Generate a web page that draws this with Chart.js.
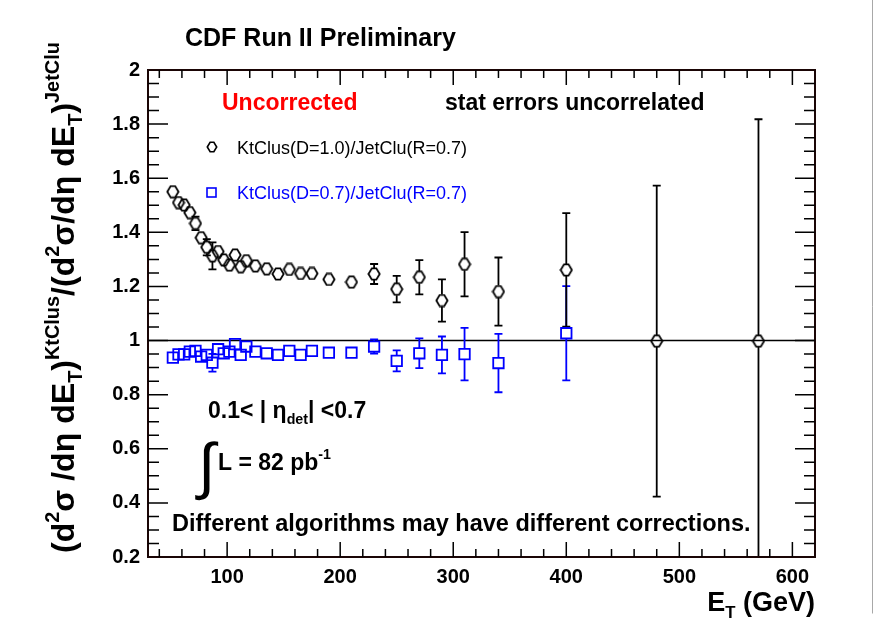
<!DOCTYPE html>
<html>
<head>
<meta charset="utf-8">
<title>KtClus / JetClu ratio</title>
<script src="https://cdn.jsdelivr.net/npm/chart.js@4.4.0/dist/chart.umd.min.js"></script>
<style>
  body { margin: 0; background: #fff; }
  canvas { display: block; }
</style>
</head>
<body>
<canvas id="chart" width="881" height="621"></canvas>
<script>
// jet E_T bin centres (GeV)
const energies = [52, 57, 62, 67, 72, 77, 82, 87, 92, 97, 102, 107, 112, 117, 125, 135, 145, 155, 165, 175, 190,
                  210, 230, 250, 270, 290, 310, 340, 400, 480, 570];

// KtClus(D=1.0)/JetClu(R=0.7)
const ratioD10 = [1.550, 1.510, 1.501, 1.473, 1.433, 1.380, 1.345, 1.313, 1.329, 1.298, 1.279, 1.316, 1.273, 1.295,
                  1.276, 1.265, 1.246, 1.263, 1.248, 1.248, 1.226, 1.216, 1.246, 1.190, 1.234, 1.148, 1.282, 1.181,
                  1.261, 0.998, 0.998];
const errD10 = [0.008, 0.010, 0.010, 0.020, 0.025, 0.020, 0.030, 0.050, 0.015, 0.015, 0.015, 0.020, 0.015, 0.015,
                0.015, 0.015, 0.020, 0.015, 0.015, 0.015, 0.015, 0.015, 0.037, 0.049, 0.063, 0.078, 0.119, 0.126,
                0.210, 0.575, 0.820];

// KtClus(D=0.7)/JetClu(R=0.7)
const ratioD07 = [0.937, 0.949, 0.949, 0.959, 0.962, 0.941, 0.947, 0.918, 0.968, 0.953, 0.959, 0.987, 0.947, 0.978,
                  0.959, 0.953, 0.947, 0.962, 0.947, 0.962, 0.955, 0.955, 0.978, 0.925, 0.953, 0.947, 0.950, 0.917,
                  1.027, null, null];
const errD07 = [0.008, 0.010, 0.010, 0.010, 0.015, 0.015, 0.015, 0.033, 0.010, 0.010, 0.010, 0.015, 0.010, 0.010,
                0.010, 0.010, 0.010, 0.010, 0.010, 0.010, 0.010, 0.012, 0.026, 0.039, 0.055, 0.068, 0.097, 0.108,
                0.174, null, null];

const xTickValues = [100, 200, 300, 400, 500, 600];
const xTickLabels = ['100', '200', '300', '400', '500', '600'];
const yTickValues = [0.2, 0.4, 0.6, 0.8, 1.0, 1.2, 1.4, 1.6, 1.8, 2.0];
const yTickLabels = ['0.2', '0.4', '0.6', '0.8', '1', '1.2', '1.4', '1.6', '1.8', '2'];

const FONT = '"Liberation Sans", Arial, sans-serif';
const BLUE = '#0000ff';

// open hexagon-ish marker used for the D=1.0 points
function hexMarker(size, color, lw) {
    const c = document.createElement('canvas');
    c.width = c.height = size;
    const g = c.getContext('2d');
    const m = size / 2, r = size / 2 - lw / 2 - 0.5;
    g.strokeStyle = color;
    g.lineWidth = lw;
    g.beginPath();
    g.moveTo(m - r, m);
    g.lineTo(m - r * 0.4, m - r);
    g.lineTo(m + r * 0.4, m - r);
    g.lineTo(m + r, m);
    g.lineTo(m + r * 0.4, m + r);
    g.lineTo(m - r * 0.4, m + r);
    g.closePath();
    g.stroke();
    return c;
}

function points(vals) {
    const out = [];
    energies.forEach((e, i) => { if (vals[i] != null) out.push({ x: e, y: vals[i] }); });
    return out;
}

function drawErrors(ctx, xs, ys, vals, errs, color, gap) {
    ctx.strokeStyle = color;
    ctx.lineWidth = 1.8;
    energies.forEach((e, i) => {
        if (vals[i] == null) return;
        const px = xs.getPixelForValue(e);
        const pc = ys.getPixelForValue(vals[i]);
        const hi = ys.getPixelForValue(vals[i] + errs[i]);
        const lo = ys.getPixelForValue(vals[i] - errs[i]);
        if (lo - pc <= gap) return;
        ctx.beginPath();
        ctx.moveTo(px, hi); ctx.lineTo(px, pc - gap);
        ctx.moveTo(px, pc + gap); ctx.lineTo(px, lo);
        ctx.moveTo(px - 4, hi); ctx.lineTo(px + 4, hi);
        ctx.moveTo(px - 4, lo); ctx.lineTo(px + 4, lo);
        ctx.stroke();
    });
}

// text with superscript / subscript pieces: [string, 'n' | 'sup' | 'sub']
function rich(ctx, parts, x, y, size, weight, draw) {
    let cx = x;
    parts.forEach(([s, kind]) => {
        const fs = kind === 'n' ? size : size * 0.62;
        const dy = kind === 'sup' ? -size * 0.48 : kind === 'sub' ? size * 0.25 : 0;
        ctx.font = `${weight} ${fs}px ${FONT}`;
        if (draw) ctx.fillText(s, cx, y + dy);
        cx += ctx.measureText(s).width;
    });
    return cx - x;
}

function text(ctx, s, x, y, size, weight, color) {
    ctx.font = `${weight} ${size}px ${FONT}`;
    ctx.fillStyle = color;
    ctx.fillText(s, x, y);
}

const decorations = {
    id: 'decorations',
    beforeDraw(chart) {
        const ctx = chart.ctx;
        ctx.save();
        ctx.fillStyle = '#fff';
        ctx.fillRect(0, 0, chart.width, chart.height);
        // canvas edge on the right
        ctx.strokeStyle = '#a8a8a8';
        ctx.lineWidth = 1;
        ctx.beginPath();
        ctx.moveTo(872.5, 0); ctx.lineTo(872.5, 613.5);
        ctx.stroke();
        ctx.restore();
    },
    beforeDatasetsDraw(chart) {
        const { ctx, chartArea: a, scales: { x, y } } = chart;
        ctx.save();
        ctx.beginPath();
        ctx.rect(a.left, a.top, a.right - a.left, a.bottom - a.top);
        ctx.clip();
        const y1 = y.getPixelForValue(1);
        ctx.strokeStyle = '#000';
        ctx.lineWidth = 1.5;
        ctx.beginPath();
        ctx.moveTo(a.left, y1); ctx.lineTo(a.right, y1);
        ctx.stroke();
        drawErrors(ctx, x, y, ratioD07, errD07, BLUE, 5);
        drawErrors(ctx, x, y, ratioD10, errD10, '#000', 6);
        ctx.restore();
    },
    afterDraw(chart) {
        const { ctx, chartArea: a, scales: { x, y } } = chart;
        ctx.save();

        // frame with inward ticks on all four sides
        ctx.strokeStyle = '#1a0505';
        ctx.lineWidth = 2;
        ctx.strokeRect(a.left, a.top, a.right - a.left, a.bottom - a.top);
        ctx.lineWidth = 1.5;
        ctx.strokeStyle = '#000';
        ctx.beginPath();
        for (let v = 40; v <= 600; v += 20) {
            const px = x.getPixelForValue(v);
            const len = v % 100 === 0 ? 15 : 8;
            ctx.moveTo(px, a.bottom); ctx.lineTo(px, a.bottom - len);
            ctx.moveTo(px, a.top); ctx.lineTo(px, a.top + len);
        }
        for (let k = 1; k < 36; k++) {
            const v = 0.2 + k * 0.05;
            const py = y.getPixelForValue(v);
            const len = k % 4 === 0 ? 20 : 11;
            ctx.moveTo(a.left, py); ctx.lineTo(a.left + len, py);
            ctx.moveTo(a.right, py); ctx.lineTo(a.right - len, py);
        }
        ctx.stroke();

        ctx.textBaseline = 'alphabetic';
        ctx.textAlign = 'left';

        text(ctx, 'CDF Run II Preliminary', 185, 46, 25, 'bold', '#000');
        text(ctx, 'Uncorrected', 222, 110, 23, 'bold', '#ff0000');
        text(ctx, 'stat errors uncorrelated', 445, 110, 23, 'bold', '#000');

        // legend
        const hex = hexMarker(12, '#000', 1.6);
        ctx.drawImage(hex, 206, 141);
        text(ctx, 'KtClus(D=1.0)/JetClu(R=0.7)', 237, 154, 18, 'normal', '#000');
        ctx.strokeStyle = BLUE;
        ctx.lineWidth = 1.6;
        ctx.strokeRect(207, 188, 9, 9);
        text(ctx, 'KtClus(D=0.7)/JetClu(R=0.7)', 237, 199, 18, 'normal', BLUE);

        ctx.fillStyle = '#000';
        rich(ctx, [['0.1< | \u03b7', 'n'], ['det', 'sub'], ['| <0.7', 'n']], 208, 418, 23, 'bold', true);
        ctx.font = `normal 62px ${FONT}`;
        ctx.fillText('\u222b', 198, 487);
        rich(ctx, [['L = 82 pb', 'n'], ['-1', 'sup']], 218, 470, 23, 'bold', true);
        text(ctx, 'Different algorithms may have different corrections.', 172, 531, 23.5, 'bold', '#000');

        // axis titles
        ctx.fillStyle = '#000';
        const xTitle = [['E', 'n'], ['T', 'sub'], [' (GeV)', 'n']];
        const xw = rich(ctx, xTitle, 0, 0, 27, 'bold', false);
        rich(ctx, xTitle, 815 - xw, 611, 27, 'bold', true);

        const yTitle = [['(d', 'n'], ['2', 'sup'], ['\u03c3 /d\u03b7 dE', 'n'], ['T', 'sub'], [')', 'n'],
                        ['KtClus', 'sup'], ['/(d', 'n'], ['2', 'sup'], ['\u03c3/d\u03b7 dE', 'n'], ['T', 'sub'],
                        [')', 'n'], ['JetClu', 'sup']];
        const natural = rich(ctx, yTitle, 0, 0, 24, 'bold', false);
        const size = 24 * 511 / natural;
        ctx.translate(74, 553);
        ctx.rotate(-Math.PI / 2);
        rich(ctx, yTitle, 0, 0, size, 'bold', true);
        ctx.restore();
    }
};

const tickFont = { family: FONT, weight: 'bold', size: 20 };

new Chart(document.getElementById('chart'), {
    type: 'scatter',
    data: {
        datasets: [{
            label: 'KtClus(D=1.0)/JetClu(R=0.7)',
            data: points(ratioD10),
            pointStyle: hexMarker(14, '#000', 1.8),
            borderColor: '#000',
            backgroundColor: 'transparent'
        }, {
            label: 'KtClus(D=0.7)/JetClu(R=0.7)',
            data: points(ratioD07),
            pointStyle: 'rect',
            pointRadius: 7.4,
            pointBorderWidth: 1.8,
            borderColor: BLUE,
            backgroundColor: 'transparent'
        }]
    },
    options: {
        responsive: false,
        animation: false,
        devicePixelRatio: 1,
        layout: { padding: { left: 0, top: 70, right: 66, bottom: 0 } },
        plugins: { legend: { display: false }, tooltip: { enabled: false } },
        scales: {
            x: {
                type: 'linear',
                min: 30,
                max: 620,
                grid: { display: false, drawTicks: false },
                border: { display: false },
                afterBuildTicks: scale => { scale.ticks = xTickValues.map(v => ({ value: v })); },
                afterFit: scale => { scale.height = 64; },
                ticks: {
                    autoSkip: false,
                    maxRotation: 0,
                    padding: 8,
                    color: '#000',
                    font: tickFont,
                    callback: (v, i) => xTickLabels[i]
                }
            },
            y: {
                type: 'linear',
                min: 0.2,
                max: 2,
                grid: { display: false, drawTicks: false },
                border: { display: false },
                afterBuildTicks: scale => { scale.ticks = yTickValues.map(v => ({ value: v })); },
                afterFit: scale => { scale.width = 148; },
                ticks: {
                    autoSkip: false,
                    padding: 8,
                    color: '#000',
                    font: tickFont,
                    callback: (v, i) => yTickLabels[i]
                }
            }
        }
    },
    plugins: [decorations]
});
</script>
</body>
</html>
